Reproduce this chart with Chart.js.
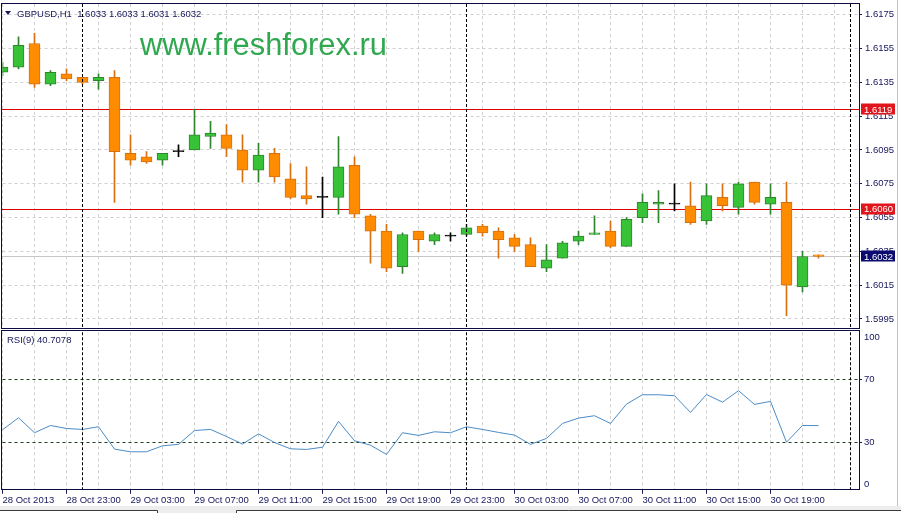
<!DOCTYPE html>
<html><head><meta charset="utf-8">
<script src="https://cdn.jsdelivr.net/npm/chart.js@4.4.0/dist/chart.umd.min.js"></script>
<style>
html,body{margin:0;padding:0;background:#fff;width:901px;height:513px;overflow:hidden;}
canvas{position:absolute;left:0;display:block;}
#c1{top:0;}
#c2{top:330px;}
</style></head><body>
<canvas id="c1" width="901" height="330"></canvas>
<canvas id="c2" width="901" height="183"></canvas>
<script>
// ---------- data ----------
const axisLabels = ['28 Oct 2013','28 Oct 23:00','29 Oct 03:00','29 Oct 07:00','29 Oct 11:00','29 Oct 15:00','29 Oct 19:00','29 Oct 23:00','30 Oct 03:00','30 Oct 07:00','30 Oct 11:00','30 Oct 15:00','30 Oct 19:00'];
const labelStep = 4;
const daySeparators = [5, 29, 53];
const open  = [1.6141,1.6144,1.6158,1.6134,1.6140,1.6138,1.6136,1.6138,1.6093,1.6091, 1.6089,1.6094,1.6095,1.6103,1.6104,1.6095,1.6083,1.6093,1.6078,1.6068, 1.6067,1.6067,1.6086,1.6056,1.6047,1.6026,1.6047,1.6041,1.6044,1.6045, 1.6050,1.6047,1.6043,1.6039,1.6025,1.6031,1.6041,1.6045,1.6047,1.6038, 1.6055,1.6063,1.6063,1.6062,1.6053,1.6067,1.6061,1.6076,1.6063,1.6064, 1.6014,1.6033];
const high  = [1.6147,1.6162,1.6164,1.6142,1.6143,1.6138,1.6140,1.6142,1.6104,1.6094, 1.6093,1.6098,1.6119,1.6112,1.6110,1.6104,1.6099,1.6096,1.6087,1.6085, 1.6079,1.6103,1.6091,1.6057,1.6051,1.6046,1.6047,1.6046,1.6046,1.6051, 1.6051,1.6049,1.6045,1.6043,1.6039,1.6041,1.6047,1.6056,1.6053,1.6055, 1.6069,1.6071,1.6075,1.6076,1.6075,1.6075,1.6076,1.6076,1.6075,1.6076, 1.6035,1.6033];
const low   = [1.6139,1.6143,1.6132,1.6133,1.6136,1.6134,1.6131,1.6064,1.6086,1.6087, 1.6086,1.6091,1.6095,1.6096,1.6091,1.6076,1.6076,1.6076,1.6066,1.6063, 1.6055,1.6057,1.6055,1.6028,1.6023,1.6022,1.6035,1.6039,1.6041,1.6044, 1.6044,1.6031,1.6035,1.6026,1.6023,1.6031,1.6039,1.6045,1.6037,1.6038, 1.6052,1.6052,1.6059,1.6051,1.6051,1.6059,1.6057,1.6063,1.6057,1.5997, 1.6011,1.6031];
const close = [1.6144,1.6157,1.6134,1.6141,1.6137,1.6135,1.6138,1.6094,1.6089,1.6088, 1.6093,1.6094,1.6104,1.6105,1.6096,1.6083,1.6092,1.6079,1.6067,1.6066, 1.6067,1.6085,1.6057,1.6047,1.6025,1.6045,1.6042,1.6045,1.6044,1.6049, 1.6046,1.6042,1.6038,1.6026,1.6030,1.6040,1.6044,1.6046,1.6038,1.6054, 1.6064,1.6064,1.6063,1.6052,1.6068,1.6062,1.6075,1.6064,1.6067,1.6015, 1.6032,1.6032];
const rsi   = [38.1,45.7,36.2,40.8,38.9,38.3,40.0,25.8,24.1,24.1, 27.9,28.8,37.6,38.3,33.8,29.0,35.5,30.0,26.0,25.6, 27.0,43.4,31.1,28.3,22.4,36.2,34.5,36.8,36.2,40.0, 38.3,36.4,34.7,28.8,32.6,42.1,45.5,47.0,42.1,54.4, 60.3,60.3,59.7,49.1,60.5,55.6,62.9,54.2,56.1,30.2, 40.8,40.7078];
const priceTicks = [1.5995,1.6015,1.6035,1.6055,1.6075,1.6095,1.6115,1.6135,1.6155,1.6175];
const priceMin = 1.598967, priceMax = 1.618139;
const rsiTicks = [30, 70];
const rsiEdgeLabels = [100, 0];
const levelLines = [1.6119, 1.6060];
const bidPrice = 1.6032;
const xMin = 0, xMax = 53.53125;
const headerText = 'GBPUSD,H1  1.6033 1.6033 1.6031 1.6032';
const rsiText = 'RSI(9) 40.7078';
const watermark = 'www.freshforex.ru';

// ---------- styles ----------
const FONT = '"Liberation Sans", Arial, sans-serif';
const NAVY = '#16165c';
const FRAME = '#0c0c40';
const GRID = '#cfcfcf';
const LEVEL_RED = '#e00000';
const BULL_FILL = '#38c238', BULL_LINE = '#2e852e';
const BEAR_FILL = '#ff8c00', BEAR_LINE = '#d9700f';
const DOJI = '#000000';

const idx = open.map((_, i) => i);
const kind = idx.map(i => close[i] > open[i] ? 1 : (close[i] < open[i] ? -1 : 0));
const xTickValues = [];
for (let v = Math.ceil(xMin); v <= Math.floor(xMax); v++) xTickValues.push(v);

function xScaleOpts(showLabels) {
  return {
    type: 'linear', min: xMin, max: xMax, offset: false,
    afterBuildTicks: s => { s.ticks = xTickValues.map(v => ({value: v})); },
    afterFit: s => { s.height = showLabels ? 23.25 : 0; s.paddingLeft = 0; s.paddingRight = 0; },
    grid: {
      offset: false,
      color: c => (c.tick && c.tick.value % 2 === 0) ? GRID : 'rgba(0,0,0,0)',
      lineWidth: 1,
      drawTicks: showLabels,
      tickLength: 4,
      tickColor: c => (c.tick && c.tick.value % labelStep === 0 && c.tick.value / labelStep < axisLabels.length) ? NAVY : 'rgba(0,0,0,0)',
      borderDash: [3, 3]
    },
    border: {display: false, dash: [3, 3]},
    ticks: {
      display: showLabels, autoSkip: false, maxRotation: 0, minRotation: 0, align: 'start', padding: 1,
      color: NAVY, font: {family: FONT, size: 9.5},
      callback: v => (v % labelStep === 0 && v / labelStep < axisLabels.length) ? axisLabels[v / labelStep] : ''
    }
  };
}

function drawSeparators(chart) {
  const {ctx, chartArea: a, scales: {x}} = chart;
  ctx.save();
  ctx.strokeStyle = '#000';
  ctx.lineWidth = 1;
  ctx.setLineDash([3, 2]);
  daySeparators.forEach(d => {
    const px = Math.floor(x.getPixelForValue(d)) + 0.5;
    ctx.beginPath(); ctx.moveTo(px, a.top); ctx.lineTo(px, a.bottom); ctx.stroke();
  });
  ctx.restore();
}
function drawWindowEdge(ctx, h) {
  ctx.save();
  ctx.strokeStyle = '#c4c4c4'; ctx.lineWidth = 1;
  ctx.setLineDash([]);
  ctx.beginPath(); ctx.moveTo(897.5, 0); ctx.lineTo(897.5, h); ctx.stroke();
  ctx.restore();
}

// ---------- price chart ----------
const pricePlugin = {
  id: 'priceDecor',
  beforeDatasetsDraw(chart) {
    const {ctx, chartArea: a, scales: {y}} = chart;
    ctx.save();
    ctx.setLineDash([]);
    ctx.globalAlpha = 1;
    ctx.font = '30px ' + FONT;
    const w = ctx.measureText(watermark).width;
    ctx.font = (30 * 247 / w).toFixed(2) + 'px ' + FONT;
    ctx.fillStyle = '#2fa84f';
    ctx.textBaseline = 'alphabetic';
    ctx.textAlign = 'left';
    ctx.fillText(watermark, 140, 55);
    const hline = (v, color) => {
      const py = Math.floor(y.getPixelForValue(v));
      ctx.fillStyle = color;
      ctx.fillRect(a.left - 1, py, a.right - a.left + 1, 1);
    };
    hline(bidPrice, '#c6c6c6');
    levelLines.forEach(v => hline(v, LEVEL_RED));
    ctx.restore();
  },
  afterDatasetsDraw(chart) { drawSeparators(chart); },
  afterDraw(chart) {
    const {ctx, chartArea: a, scales: {y}} = chart;
    ctx.save();
    ctx.setLineDash([]);
    ctx.strokeStyle = FRAME; ctx.lineWidth = 1;
    ctx.strokeRect(1.5, 3.5, a.right - 1.5 + 0.5, 325);
    // header
    ctx.fillStyle = NAVY;
    ctx.beginPath(); ctx.moveTo(5, 11); ctx.lineTo(11, 11); ctx.lineTo(8, 15); ctx.closePath(); ctx.fill();
    ctx.font = '9.5px ' + FONT;
    ctx.textBaseline = 'middle'; ctx.textAlign = 'left';
    ctx.fillText(headerText, 17, 14);
    // price labels on axis
    const box = (v, fill) => {
      const py = y.getPixelForValue(v);
      ctx.fillStyle = fill;
      ctx.fillRect(861, Math.round(py) - 5.5, 34, 11);
      ctx.fillStyle = '#fff';
      ctx.fillText(v.toFixed(4), 864, py + 0.5);
    };
    levelLines.forEach(v => box(v, '#e0161c'));
    box(bidPrice, '#0a0a70');
    ctx.restore();
    drawWindowEdge(ctx, 330);
  }
};

new Chart(document.getElementById('c1'), {
  type: 'bar',
  data: {
    datasets: [
      {
        label: 'body',
        data: idx.map(i => ({x: i, y: [open[i], close[i]]})),
        backgroundColor: idx.map(i => kind[i] > 0 ? BULL_FILL : kind[i] < 0 ? BEAR_FILL : DOJI),
        borderColor: idx.map(i => kind[i] > 0 ? BULL_LINE : kind[i] < 0 ? BEAR_LINE : DOJI),
        borderWidth: 1, borderSkipped: false, minBarLength: 1,
        barThickness: 11, grouped: false, clip: 0
      },
      {
        label: 'wick',
        data: idx.map(i => ({x: i, y: [low[i], high[i]]})),
        backgroundColor: idx.map(i => kind[i] > 0 ? BULL_LINE : kind[i] < 0 ? BEAR_LINE : DOJI),
        borderWidth: 0, barThickness: 1, grouped: false, clip: 0
      }
    ]
  },
  options: {
    responsive: false, animation: false, events: [],
    layout: {padding: {left: 2.5, top: 4, right: 0, bottom: 2}},
    plugins: {legend: {display: false}, tooltip: {enabled: false}, title: {display: false}},
    scales: {
      x: xScaleOpts(false),
      y: {
        position: 'right', min: priceMin, max: priceMax,
        afterBuildTicks: s => { s.ticks = priceTicks.map(v => ({value: v})); },
        afterFit: s => { s.width = 42; s.paddingTop = 0; s.paddingBottom = 0; },
        grid: {color: GRID, lineWidth: 1, drawTicks: true, tickLength: 3, tickColor: NAVY, borderDash: [3, 3]},
        border: {display: false, dash: [3, 3]},
        ticks: {color: NAVY, font: {family: FONT, size: 9.5}, padding: 3, callback: v => Number(v).toFixed(4)}
      }
    }
  },
  plugins: [pricePlugin]
});

// ---------- RSI chart ----------
const rsiPlugin = {
  id: 'rsiDecor',
  afterDatasetsDraw(chart) { drawSeparators(chart); },
  afterDraw(chart) {
    const {ctx, chartArea: a, scales: {y}} = chart;
    ctx.save();
    ctx.setLineDash([]);
    ctx.strokeStyle = FRAME; ctx.lineWidth = 1;
    ctx.strokeRect(1.5, 0.5, a.right - 1.5 + 0.5, 159);
    ctx.fillStyle = NAVY;
    ctx.font = '9.5px ' + FONT;
    ctx.textBaseline = 'middle'; ctx.textAlign = 'left';
    ctx.fillText(rsiText, 7, 10);
    rsiEdgeLabels.forEach(v => {
      const py = y.getPixelForValue(v) + (v > 50 ? 5.5 : -5.5);
      ctx.fillText(String(v), 864, py);
    });
    // bottom tab strip
    ctx.fillStyle = '#ededed';
    ctx.fillRect(0, 176, 901, 7);
    ctx.fillStyle = '#ffffff';
    ctx.fillRect(0, 181, 157, 2);
    ctx.fillRect(237, 181, 664, 2);
    ctx.strokeStyle = '#3a3a3a';
    ctx.beginPath();
    ctx.moveTo(0, 180.5); ctx.lineTo(157.5, 180.5); ctx.lineTo(157.5, 183);
    ctx.moveTo(236.5, 183); ctx.lineTo(236.5, 180.5); ctx.lineTo(901, 180.5);
    ctx.stroke();
    ctx.restore();
    drawWindowEdge(ctx, 176);
  }
};

new Chart(document.getElementById('c2'), {
  type: 'line',
  data: {
    datasets: [{
      label: 'RSI(9)',
      data: idx.map(i => ({x: i, y: rsi[i]})),
      borderColor: '#4a8cc6', borderWidth: 1, pointRadius: 0, tension: 0, fill: false
    }]
  },
  options: {
    responsive: false, animation: false, events: [],
    layout: {padding: {left: 2.5, top: 2.25, right: 0, bottom: 0}},
    plugins: {legend: {display: false}, tooltip: {enabled: false}},
    scales: {
      x: xScaleOpts(true),
      y: {
        position: 'right', min: 0, max: 100,
        afterBuildTicks: s => { s.ticks = rsiTicks.map(v => ({value: v})); },
        afterFit: s => { s.width = 42; s.paddingTop = 0; s.paddingBottom = 0; },
        grid: {color: '#1f3d1f', lineWidth: 1, drawTicks: true, tickLength: 3, tickColor: NAVY, borderDash: [3, 3]},
        border: {display: false, dash: [3, 3]},
        ticks: {color: NAVY, font: {family: FONT, size: 9.5}, padding: 2, callback: v => String(v)}
      }
    }
  },
  plugins: [rsiPlugin]
});
</script>
</body></html>
